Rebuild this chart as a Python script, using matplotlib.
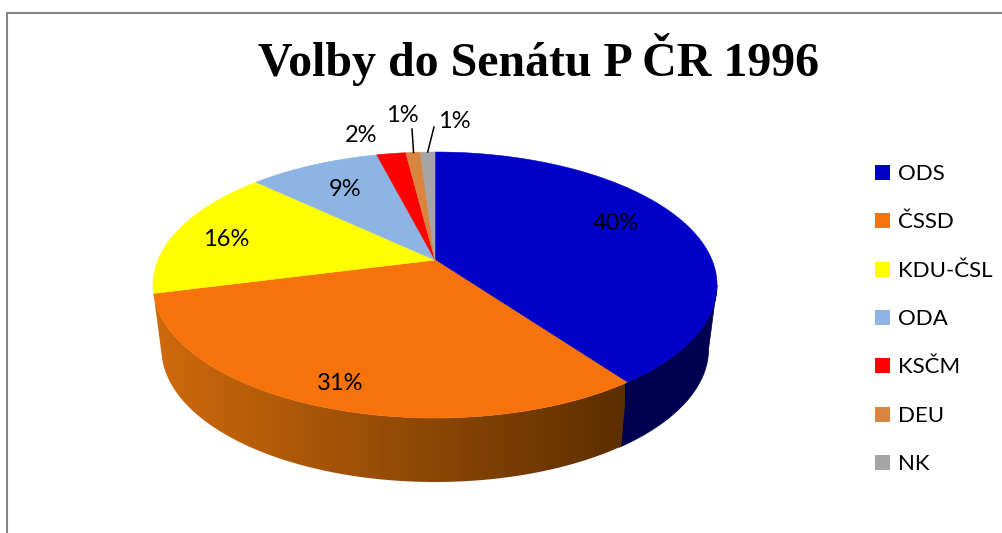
import numpy as np
import matplotlib
matplotlib.use('Agg')
import matplotlib.pyplot as plt
from matplotlib.patches import Polygon, Rectangle

parties = ['ODS', 'ČSSD', 'KDU-ČSL', 'ODA', 'KSČM', 'DEU', 'NK']
shares = [40, 31, 16, 9, 2, 1, 1]
colors = ['#0000C8', '#F5730A', '#FFFF00', '#8EB4E3', '#FF0000', '#D9843F', '#A5A5A5']
label_pos = [(616, 223), (340, 383), (226, 239), (345, 190), (361, 135), (402, 116), (454, 122)]

# geometry of the tilted pie, in pixels
cx, cy = 435, 260
R, A, K = 277, 128.3, 0.188
DEPTH = 64
SHRINK = 0.97


def top_xy(t):
    # t is clockwise from 12 o'clock, in degrees
    x = np.sin(np.radians(t))
    y = np.cos(np.radians(t))
    d = 1 + K * y
    return cx + R * x / d, cy - A * y / d


def bottom_xy(t):
    x, y = top_xy(t)
    return cx + (x - cx) * SHRINK, y + DEPTH


def wall(t0, t1):
    t = np.linspace(t0, t1, 80)
    xt, yt = top_xy(t)
    xb, yb = bottom_xy(t)
    return np.column_stack([np.r_[xt, xb[::-1]], np.r_[yt, yb[::-1]]])


fig = plt.figure(figsize=(10.02, 5.33), dpi=100)
ax = fig.add_axes([0, 0, 1, 1])
ax.set_xlim(0, 1002)
ax.set_ylim(533, 0)
ax.axis('off')

edges = 3.6 * np.r_[0, np.cumsum(shares)]

# side walls: ODS flat navy, CSSD with a gradient going dark to the right
# the ODS wall starts where the rim turns back, so its outer edge is the silhouette
rim = np.degrees(np.arccos(-K))
ax.add_patch(Polygon(wall(rim, edges[1] + 0.5), fc='#000050', ec='#000050', lw=0.5))
grad = np.linspace(0, 1, 256)[None, :, None]
left = np.array([208, 106, 12]) / 255
right = np.array([92, 46, 0]) / 255
img = ax.imshow(left + (right - left) * grad, extent=(153, 625, 533, 0), aspect='auto', zorder=1)
ax.set_xlim(0, 1002)
ax.set_ylim(533, 0)
clip = Polygon(wall(edges[1], edges[2]), transform=ax.transData, fc='none', ec='none')
ax.add_patch(clip)
img.set_clip_path(clip)

# top surface
for i in range(len(shares)):
    t = np.linspace(edges[i], edges[i + 1], 120)
    xs, ys = top_xy(t)
    pts = np.column_stack([np.r_[cx, xs], np.r_[cy, ys]])
    ax.add_patch(Polygon(pts, fc=colors[i], ec=colors[i], lw=0.4, zorder=2))

for (x, y), s in zip(label_pos, shares):
    ax.text(x, y, f'{s}%', ha='center', va='center', fontsize=17, family='Lato', color='black', zorder=4)

# leader lines for the two smallest slices
for i, (lx, ly) in zip([5, 6], [(412, 129), (434, 127)]):
    x0, y0 = top_xy((edges[i] + edges[i + 1]) / 2)
    ax.plot([x0 + (0.5 if i == 5 else 0), lx], [y0, ly], color='black', lw=1.1, zorder=3)

# legend
for i, name in enumerate(parties):
    yc = 172.5 + 48.3 * i
    ax.add_patch(Rectangle((875, yc - 7.5), 15, 15, fc=colors[i], ec='none'))
    ax.text(898, yc + 1.5, name, ha='left', va='center', fontsize=16, family='Lato', color='black')

ax.text(539, 60, 'Volby do Senátu P ČR 1996', ha='center', va='center', fontsize=34.5,
        family='Liberation Serif', weight='bold', color='black')

# chart frame, only top and left are in the picture
ax.plot([1002, 7, 7], [13, 13, 533], color='#868686', lw=1.5, solid_joinstyle='miter')

fig.savefig('out.png', dpi=100)
